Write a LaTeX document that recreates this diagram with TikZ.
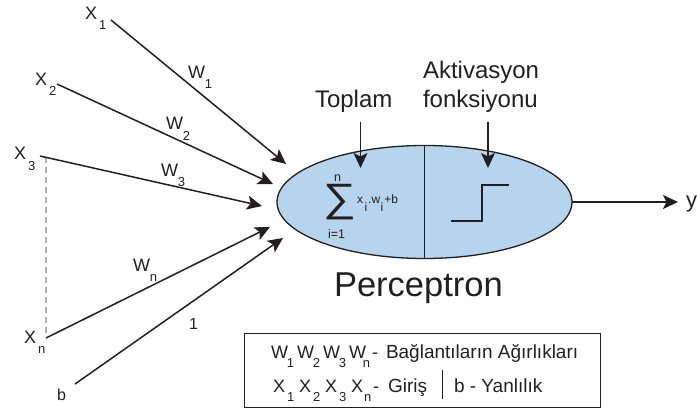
\documentclass[tikz,border=0pt]{standalone}
\usepackage{fontspec}
\setmainfont{Liberation Sans}
\usetikzlibrary{arrows.meta,shapes.geometric}
\definecolor{ink}{HTML}{231F20}
\definecolor{cellblue}{HTML}{B6D4EE}
\newcommand{\fs}[1]{\fontsize{#1}{#1}\selectfont}
\newcommand{\lowsub}[2][10pt]{\raisebox{-#1}{\fs{13}#2}}
\tikzset{
  lbl/.style={anchor=base west,inner sep=0pt,outer sep=0pt,text=ink},
  sym/.style={lbl,font=\fs{18}},
  big/.style={lbl,font=\fs{24}},
  arrowline/.style={draw=ink,line width=1.5pt,-{Stealth[length=15pt,width=14pt,inset=3.5pt]}},
  thin rule/.style={draw=ink,line width=1.4pt},
}
\begin{document}
\begin{tikzpicture}[x=1pt,y=-1pt]
\useasboundingbox (0,0) rectangle (697,412);
% ellipse
\node[ellipse,draw=ink,line width=1.3pt,fill=cellblue,minimum width=295pt,minimum height=113pt,inner sep=0pt,outer sep=0pt] (perc) at (424.5,202) {};
\draw[thin rule] (perc.north) -- (perc.south);
% free ends
\coordinate (s1) at (111,20); \coordinate (e1) at (286,164);
\coordinate (s2) at (57,84);  \coordinate (e2) at (273,184);
\coordinate (s3) at (40,156); \coordinate (e3) at (262,206);
\coordinate (sn) at (46,338); \coordinate (en) at (270,227);
\coordinate (sb) at (75,384); \coordinate (eb) at (283,238);
\coordinate (yend) at (678,202);
\coordinate (dtop) at (46,157); \coordinate (dbot) at (46,335);
\coordinate (ts) at (360.5,122); \coordinate (te) at (360.5,168);
\coordinate (as) at (488,122); \coordinate (ae) at (488,168);
\coordinate (st1) at (451,221); \coordinate (st2) at (482,221); \coordinate (st3) at (482,185); \coordinate (st4) at (509,185);
% connectors
\draw[gray!60,line width=1.2pt,dash pattern=on 6pt off 4pt] (dtop) -- (dbot);
\draw[arrowline] (s1) -- (e1);
\draw[arrowline] (s2) -- (e2);
\draw[arrowline] (s3) -- (e3);
\draw[arrowline] (sn) -- (en);
\draw[arrowline] (sb) -- (eb);
\draw[arrowline] (perc.east) -- (yend);
\draw[arrowline] (ts) -- (te);
\draw[arrowline] (as) -- (ae);
\draw[thin rule] (st1) -- (st2) -- (st3) -- (st4);
% input labels
\node[sym] (lx1) at (85,20) {X\lowsub{\,1}};
\node[sym] (lx2) at (35,85) {X\lowsub{\,2}};
\node[sym] (lx3) at (14,160) {X\lowsub{\,3}};
\node[sym] (lxn) at (24,343) {X\lowsub{\,n}};
\node[lbl,font=\fs{16}] (lb) at (57,400) {b};
\node[sym] (lw1) at (188,79) {W\lowsub{1}};
\node[sym] (lw2) at (166,130) {W\lowsub{2}};
\node[sym] (lw3) at (161,176) {W\lowsub{3}};
\node[sym] (lwn) at (133,271) {W\lowsub{n}};
\node[lbl,font=\fs{16}] (l1) at (189,329) {1};
% top labels
\node[big] (toplam) at (315,107) {Toplam};
\node[big] (akt) at (423,79) {Aktivasyon};
\node[big] (fonk) at (423,107) {fonksiyonu};
\node[lbl,font=\fs{22}] (yl) at (686,207) {y};
\node[lbl,font=\fs{34.5}] (percl) at (334,296) {Perceptron};
% formula
\node[lbl] (sumn) at (334,181) {\fs{12.5}n};
\node[anchor=center,inner sep=0pt,text=ink] (sumsym) at (340,202.5) {\scalebox{1}[0.86]{\fs{46}∑}};
\node[lbl] (sumi) at (328,238) {\fs{12.5}i=1};
\node[lbl,font=\fs{12}] (xi) at (357,203) {x\raisebox{-9pt}{\hspace{1.5pt}i}\hspace{1pt}.w\raisebox{-9pt}{\hspace{0.5pt}i}\hspace{1pt}+b};
% legend
\node[draw=ink,line width=1pt,inner sep=0pt,outer sep=0pt,minimum width=356pt,minimum height=74pt] (legend) at (422,370) {};
\coordinate (v1) at (442,370); \coordinate (v2) at (442,399);
\draw[draw=ink,line width=1pt] (v1) -- (v2);
\node[sym] (a1) at (271,358) {W\hspace{-1pt}\lowsub[9pt]{1}};
\node[sym] (a2) at (297,358) {W\hspace{-1pt}\lowsub[9pt]{2}};
\node[sym] (a3) at (323,358) {W\hspace{-1pt}\lowsub[9pt]{3}};
\node[sym] (a4) at (349,358) {W\hspace{-3pt}\lowsub[9pt]{n}};
\node[sym] (a5) at (372,358) {-};
\node[lbl,font=\fs{19}] (a6) at (386,358) {Bağlantıların Ağırlıkları};
\node[sym] (b1) at (273,392) {X\lowsub[9pt]{\,1}};
\node[sym] (b2) at (299,392) {X\lowsub[9pt]{\,2}};
\node[sym] (b3) at (325,392) {X\lowsub[9pt]{\,3}};
\node[sym] (b4) at (351,392) {X\hspace{-1pt}\lowsub[9pt]{\,n}};
\node[sym] (b5) at (373,392) {-};
\node[lbl,font=\fs{19}] (b6) at (388,392) {Giriş};
\node[lbl,font=\fs{19}] (b7) at (454,392) {b - Yanlılık};
\end{tikzpicture}
\end{document}
